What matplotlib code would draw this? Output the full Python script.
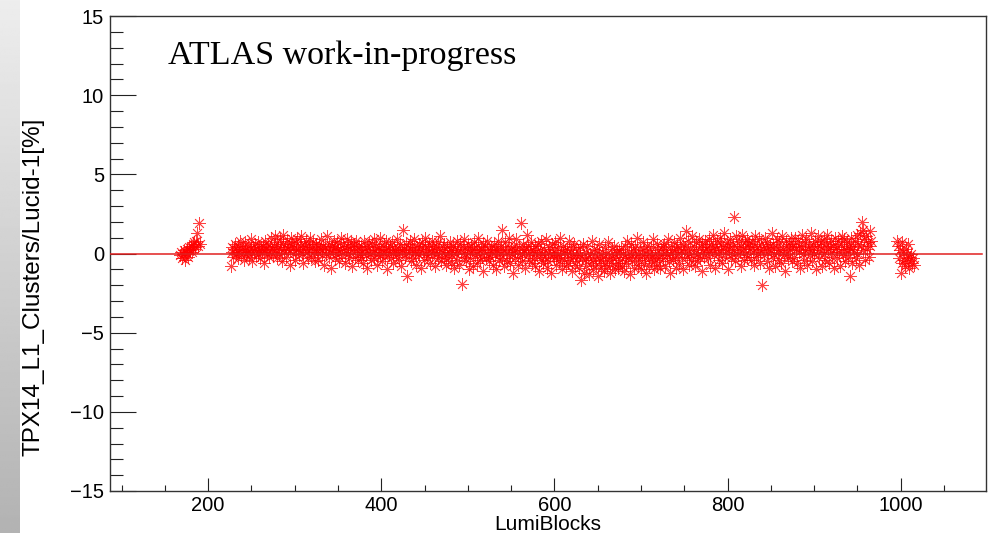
import numpy as np
import matplotlib
matplotlib.use("Agg")
import matplotlib.pyplot as plt
from matplotlib.ticker import MultipleLocator, FixedLocator

# ---------------- data ----------------
lb_start_a = 168
ratio_a = [-0.1, 0.1, -0.3, 0.0, 0.2, -0.4, 0.1, 0.3, 0.0, -0.2, 0.4, 0.2,
           0.5, 0.1, 0.6, 0.3, 0.7, 0.4, 0.8, 1.3, 0.5, 1.9, 0.6]

lb_start_b = 226
ratio_b1 = [-0.8, 0.1, 0.4, -0.2, 0.3, 0.6, 0.0, 0.2, -0.3, 0.5, 0.1, 0.8, -0.1, 0.3, 0.4, -0.4, 0.2, 0.7, 0.0, 0.1,
            0.5, -0.2, 0.3, 0.9, 0.1, -0.5, 0.4, 0.2, 0.6, -0.1, 0.3, 0.0, 0.7, 0.2, -0.3, 0.4, 0.1, 0.5, -0.6, 0.2,
            0.8, 0.3, 0.0, 0.6, -0.2, 0.4, 1.0, 0.1, 0.3, -0.1]
ratio_b2 = [0.5, 1.1, 0.2, -0.3, 0.7, 0.4, 0.0, 0.9, 0.3, -0.5, 0.6, 1.2, 0.1, 0.4, -0.2, 0.8, 0.3, 0.5, -0.7, 0.2,
            1.0, 0.6, 0.0, 0.4, -0.4, 0.7, 0.2, 0.9, 0.3, -0.1, 0.5, 1.1, 0.0, 0.3, -0.6, 0.6, 0.4, 0.8, 0.1, -0.3,
            0.5, 0.2, 1.0, -0.2, 0.4, 0.7, 0.1, -0.5, 0.3, 0.6]
ratio_b3 = [0.1, -0.4, 0.6, 0.3, 0.9, -0.1, 0.2, 0.5, -0.7, 0.4, 0.0, 1.1, 0.3, -0.2, 0.6, 0.1, -0.9, 0.5, 0.2, 0.8,
            -0.3, 0.4, 0.0, 0.7, 0.2, -0.5, 0.3, 1.0, 0.1, -0.1, 0.6, 0.4, -0.6, 0.2, 0.9, 0.0, 0.5, -0.3, 0.3, 0.7,
            -0.8, 0.1, 0.4, 0.6, -0.2, 0.8, 0.2, -0.4, 0.5, 0.0]
ratio_b4 = [-0.2, 0.5, 0.1, -0.6, 0.8, 0.3, -0.1, 0.4, -0.9, 0.2, 0.7, 0.0, -0.4, 0.6, 0.1, 0.9, -0.3, 0.2, 0.5, -0.7,
            0.0, 0.4, -0.1, 1.0, 0.3, -0.5, 0.1, 0.6, -0.2, 0.3, 0.8, -1.0, 0.2, 0.0, 0.5, -0.3, 0.7, 0.1, -0.6, 0.4,
            0.2, -0.1, 0.9, 0.0, -0.4, 0.3, 0.6, -0.8, 0.2, 1.5]
ratio_b5 = [0.3, -0.2, 0.6, 0.0, -1.4, 0.4, 0.1, 0.8, -0.5, 0.2, 0.5, -0.3, 0.9, 0.1, -0.7, 0.4, 0.0, 0.6, -0.1, 0.3,
            -0.9, 0.7, 0.2, -0.4, 0.5, 1.0, 0.0, -0.2, 0.3, 0.6, -0.6, 0.1, 0.8, -0.1, 0.4, 0.2, -0.8, 0.5, 0.0, 0.7,
            -0.3, 0.3, 1.1, -0.5, 0.1, 0.4, -0.2, 0.6, 0.0, -0.7]
ratio_b6 = [0.4, -0.3, 0.1, 0.7, -0.6, 0.2, -0.1, 0.5, -0.9, 0.3, 0.0, 0.8, -0.4, 0.2, -0.7, 0.6, 0.1, -1.9, 0.4, -0.2,
            0.9, 0.0, -0.5, 0.3, 0.6, -1.0, 0.1, -0.3, 0.5, 0.2, -0.8, 0.7, -0.1, 0.4, 0.0, -0.6, 1.0, 0.2, -0.4, 0.3,
            -0.2, 0.6, -1.1, 0.1, 0.5, -0.3, 0.8, 0.0, -0.5, 0.2]
ratio_b7 = [-0.2, 0.4, 0.1, -0.7, 0.6, -0.1, 0.3, -1.0, 0.2, 0.8, -0.4, 0.0, 0.5, 1.5, -0.3, 0.2, -0.8, 0.7, 0.1, -0.5,
            0.4, -0.1, 1.0, -0.6, 0.3, 0.0, -1.2, 0.5, 0.2, -0.3, 0.9, 0.1, -0.7, 0.4, -0.2, 1.9, 0.0, -0.5, 0.6, 0.2,
            -0.9, 0.3, 1.2, -0.1, 0.5, -0.4, 0.1, 0.7, -0.6, 0.2]
ratio_b8 = [-0.3, 0.5, -0.8, 0.1, -0.1, 0.6, -1.1, 0.2, -0.4, 0.8, 0.0, -0.6, 0.3, -0.2, 0.9, -0.9, 0.1, -0.5, 0.4, -0.1,
            -1.2, 0.6, 0.0, -0.3, 0.2, 0.7, -0.7, -0.1, 0.4, -0.5, 1.0, -0.2, 0.1, -1.0, 0.5, -0.4, 0.2, -0.8, 0.3, 0.0,
            -0.6, 0.8, -0.3, 0.1, -1.1, 0.4, -0.2, 0.6, -0.7, -0.1]
ratio_b9 = [-0.5, 0.2, -0.9, -0.1, 0.4, -1.7, -0.3, 0.6, -1.2, -0.4, 0.1, -0.8, 0.5, -0.2, -1.3, 0.0, -0.6, 0.8, -0.4, -1.0,
            0.3, -0.1, -0.7, 0.2, -1.4, -0.3, 0.6, -0.5, -0.9, 0.1, -0.2, -1.1, 0.4, -0.6, 0.0, -0.8, 0.7, -0.4, -1.2, -0.1,
            0.3, -0.7, -0.3, 0.5, -1.0, -0.2, 0.1, -0.6, -0.9, 0.2]
ratio_b10 = [-0.4, 0.3, -0.8, 0.0, -1.1, 0.5, -0.2, -0.6, 0.8, -0.3, 0.1, -1.3, -0.1, 0.6, -0.5, 0.2, -0.9, 0.4, -0.2, 1.0,
             -0.7, 0.0, -0.4, 0.3, -1.0, -0.1, 0.7, -0.6, 0.2, -0.3, -1.2, 0.5, -0.1, -0.8, 0.1, 0.4, -0.5, -0.2, 0.9, -1.0,
             0.0, -0.4, 0.6, -0.7, 0.2, -0.3, -0.9, 0.3, -0.1, 0.5]
ratio_b11 = [-0.3, 0.6, -0.8, 0.2, -0.1, 0.9, -0.5, 0.0, -1.2, 0.4, 0.1, -0.4, 0.7, -0.2, 0.3, -0.9, 0.5, 0.0, -0.6, 1.0,
             0.2, -0.3, 0.6, -1.0, 0.1, 0.4, 1.4, -0.2, 0.8, -0.7, 0.0, 0.3, -0.4, 1.1, -0.1, 0.5, -0.8, 0.2, 0.7, -0.5,
             0.0, 0.9, -0.3, 0.4, -1.1, 0.6, 0.1, -0.2, 0.8, 0.3]
ratio_b12 = [0.4, -0.3, 0.9, 0.1, -0.7, 0.6, 0.2, 1.2, -0.1, 0.5, -0.9, 0.3, 0.8, 0.0, -0.4, 1.0, 0.2, 0.6, -0.6, 0.4,
             1.3, -0.2, 0.1, 0.7, -1.0, 0.5, 0.3, 0.9, -0.3, 0.0, 0.6, 2.3, 0.2, -0.5, 1.1, 0.4, -0.1, 0.8, 0.1, -0.8,
             0.5, 1.2, 0.3, -0.4, 0.7, 0.0, 0.9, -0.2, 0.4, 0.6]
ratio_b13 = [0.3, -0.4, 0.8, 0.1, -0.7, 0.5, 1.1, -0.2, 0.4, 0.0, 0.9, -0.6, 0.2, 0.6, -2.0, 0.3, -0.1, 1.0, 0.4, -0.5,
             0.7, 0.1, -0.9, 0.5, 0.2, 1.3, -0.3, 0.6, 0.0, -0.8, 0.4, 0.9, 0.1, -0.4, 0.7, 0.2, -0.6, 1.1, 0.3, -0.1,
             -1.1, 0.5, 0.8, 0.0, -0.3, 0.6, 0.2, 1.0, -0.5, 0.4]
ratio_b14 = [0.6, -0.2, 1.0, 0.3, -0.6, 0.8, 0.1, 0.5, -0.9, 0.4, 1.2, 0.0, -0.4, 0.7, 0.2, 0.9, -0.7, 0.3, 0.5, -0.1,
             1.3, 0.2, -0.5, 0.6, 0.0, 0.8, -1.0, 0.4, 0.1, 1.1, -0.3, 0.5, 0.7, -0.8, 0.2, 0.9, 0.0, -0.4, 0.6, 1.2,
             0.3, -0.6, 0.4, 0.1, 0.8, -0.2, 0.5, -0.9, 1.0, 0.3]
ratio_b15 = [0.4, -0.3, 0.8, 0.1, -0.8, 0.6, 1.1, -0.1, 0.3, 0.9, -0.5, 0.2, 0.7, -0.2, 0.5, -1.4, 0.3, 1.0, -0.6, 0.4,
             0.1, 0.8, -0.3, 1.2, 0.0, 0.6, -0.7, 1.3, 0.5, 2.0, 1.5, 0.2, 0.9, -0.4, 1.1, 0.3, 0.7, -0.2, 1.4, 0.5, 0.8]

lb_start_c = 996
ratio_c = [0.8, 0.5, -0.3, 0.2, -1.2, -0.6, 0.7, 0.1, -0.4, -0.8, 0.3, -0.1, -0.5, 0.6, -0.9, -0.2, 0.0, -0.6,
           -0.3, -0.7]

x_ticks_major = [200, 400, 600, 800, 1000]
y_ticks_major = [-15, -10, -5, 0, 5, 10, 15]
x_limits = (86, 1098)
y_limits = (-15, 15)

title_text = "ATLAS work-in-progress"
x_title = "LumiBlocks"
y_title = "TPX14_L1_Clusters/Lucid-1[%]"

# ---------------- figure ----------------
W, H = 996, 533
fig = plt.figure(figsize=(W / 100, H / 100), dpi=100)
fig.patch.set_facecolor("white")

# grey slide strip on the left edge
bg = fig.add_axes([0, 0, 19 / W, 1])
grad = np.linspace(0.93, 0.70, 256).reshape(-1, 1)
bg.imshow(grad, aspect="auto", cmap="gray", vmin=0, vmax=1, extent=[0, 1, 0, 1])
bg.set_axis_off()

ax_l, ax_r, ax_t, ax_b = 109.5, 985.5, 16, 491
ax = fig.add_axes([ax_l / W, 1 - ax_b / H, (ax_r - ax_l) / W, (ax_b - ax_t) / H])

ratio_b = (ratio_b1 + ratio_b2 + ratio_b3 + ratio_b4 + ratio_b5 + ratio_b6 + ratio_b7 + ratio_b8
           + ratio_b9 + ratio_b10 + ratio_b11 + ratio_b12 + ratio_b13 + ratio_b14 + ratio_b15)

groups = [(lb_start_a, ratio_a), (lb_start_b, ratio_b), (lb_start_c, ratio_c)]

ax.axhline(0, xmin=0, xmax=0.996, color="#e02020", lw=1.1, zorder=3)
for start, vals in groups:
    xs = start + np.arange(len(vals))
    ax.plot(xs, vals, linestyle="none", marker=(8, 2, 0), markersize=9,
            markeredgewidth=0.6, color="#ff0000", alpha=0.75, zorder=2)

ax.set_xlim(*x_limits)
ax.set_ylim(*y_limits)

ax.xaxis.set_major_locator(FixedLocator(x_ticks_major))
ax.xaxis.set_minor_locator(MultipleLocator(50))
ax.yaxis.set_major_locator(FixedLocator(y_ticks_major))
ax.yaxis.set_minor_locator(MultipleLocator(1))

tick_font = {"family": "Liberation Sans", "size": 14.5}
ax.set_xticklabels([str(v) for v in x_ticks_major], fontdict=tick_font)
ax.set_yticklabels([str(v).replace("-", "\u2212") for v in y_ticks_major], fontdict=tick_font)

ax.tick_params(axis="y", which="major", direction="in", length=18.4, width=0.8, pad=4, colors="#222222")
ax.tick_params(axis="y", which="minor", direction="in", length=9.6, width=0.8, colors="#222222")
ax.tick_params(axis="x", which="major", direction="in", length=9.6, width=0.8, pad=3.5, colors="#222222")
ax.tick_params(axis="x", which="minor", direction="in", length=4.2, width=0.8, colors="#222222")
for lbl in ax.get_xticklabels() + ax.get_yticklabels():
    lbl.set_color("black")

for sp in ax.spines.values():
    sp.set_linewidth(1.0)
    sp.set_color("#333333")

ax.set_xlabel(x_title, family="Liberation Sans", fontsize=15)
ax.xaxis.set_label_coords(0.5, (ax_b - 515) / (ax_b - ax_t))
ax.set_ylabel(y_title, family="Liberation Sans", fontsize=17.5, ha="center")
ax.yaxis.set_label_coords((45 - ax_l) / (ax_r - ax_l), (ax_b - 287) / (ax_b - ax_t))

ax.text((168 - ax_l) / (ax_r - ax_l), (ax_b - 64) / (ax_b - ax_t), title_text,
        transform=ax.transAxes, family="Liberation Serif", fontsize=24.5,
        ha="left", va="baseline", color="black")

fig.savefig("out.png", dpi=100)
